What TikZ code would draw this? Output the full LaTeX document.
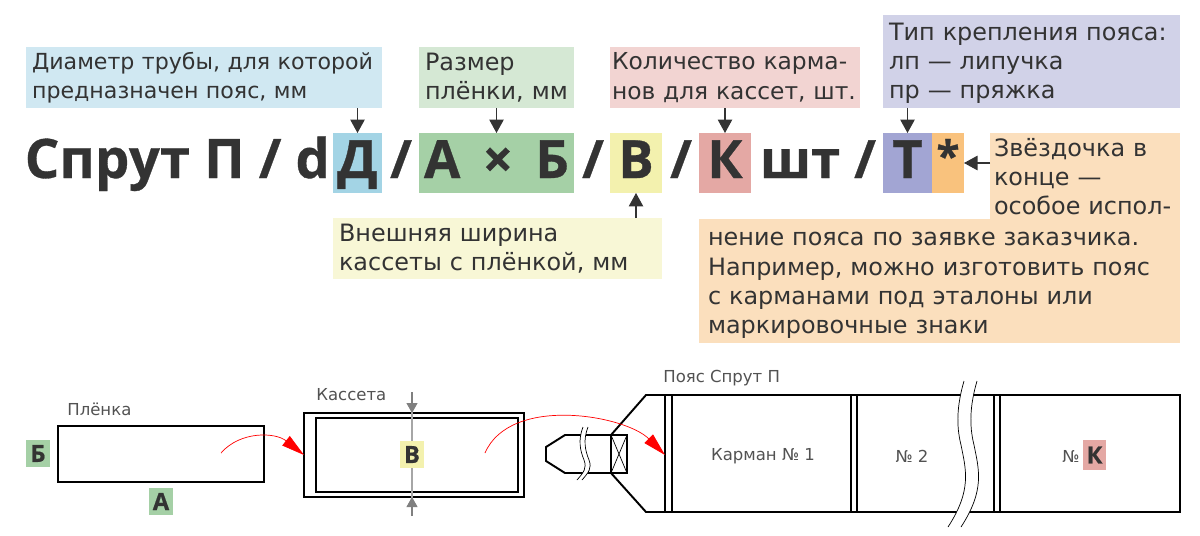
\documentclass[tikz,border=0pt]{standalone}
\usepackage{fontspec}
\setmainfont{DejaVu Sans}
\newfontfamily\codefont[BoldFeatures={FakeBold=0.6}]{Open Sans}
\usetikzlibrary{arrows.meta}
\definecolor{inkdark}{HTML}{333333}
\definecolor{notediam}{HTML}{D0E8F2}
\definecolor{markdiam}{HTML}{A3D4E5}
\definecolor{notefilm}{HTML}{D5E8D4}
\definecolor{markfilm}{HTML}{A5D0A6}
\definecolor{notecass}{HTML}{F8F7D6}
\definecolor{markcass}{HTML}{F3F1AE}
\definecolor{notepock}{HTML}{F2D4D2}
\definecolor{markpock}{HTML}{E4A8A4}
\definecolor{notefast}{HTML}{D1D2E8}
\definecolor{markfast}{HTML}{A2A5D3}
\definecolor{notestar}{HTML}{FBDFBD}
\definecolor{markstar}{HTML}{F9C27D}
\begin{document}
\begin{tikzpicture}[x=0.02cm, y=-0.02cm,
	note/.style={text width=#1-.24cm, inner xsep=.12cm, inner ysep=0, outer sep=0, align=left, text=inkdark, font=\fontsize{13.6}{16.7}\selectfont},
	title/.style={text=inkdark, inner sep=0, outer sep=0, text height=.9cm, text depth=.3cm, font=\fontsize{30}{30}\codefont\bfseries\selectfont},
	small/.style={text=inkdark!85, inner sep=0, font=\fontsize{9.4}{11}\selectfont},
	tag/.style={text=inkdark, inner sep=0, outer sep=0, minimum height=.54cm, minimum width=.48cm, font=\fontsize{13.5}{14}\codefont\bfseries\selectfont},
	part/.style={draw=black, line width=1.1pt, inner sep=0, outer sep=0},
	lead/.style={draw=inkdark, line width=.6pt, -{Triangle[length=.27cm,width=.29cm]}},
	flow/.style={draw=red, line width=.4pt, -{Triangle[length=.46cm,width=.24cm]}},
	gauge/.style={draw=gray, line width=.6pt, -{Triangle[length=.2cm,width=.22cm]}},
	wave/.style={draw=black, line width=.4pt}]
	\useasboundingbox (0,0) rectangle (1200,535);
	% notes above and below the code
	\node[note=7.12cm, fill=notediam, minimum height=1.22cm, font=\fontsize{12.6}{16.7}\selectfont] (Ndiam) at (204,77.5) {Диаметр трубы, для которой\\предназначен пояс, мм};
	\node[note=3.1cm, fill=notefilm, minimum height=1.22cm] (Nfilm) at (496.5,77.5) {Размер\\плёнки, мм};
	\node[note=5cm, fill=notepock, minimum height=1.22cm, inner xsep=.04cm, text width=4.92cm, font=\fontsize{13.3}{16.7}\selectfont] (Npock) at (735,77.5) {Количество карма-\\нов для кассет, шт.};
	\node[note=5.94cm, fill=notefast, minimum height=1.86cm] (Nfast) at (1031.5,61.5) {\rule{0pt}{12pt}Тип крепления пояса:\\лп — липучка\\пр — пряжка};
	\node[note=6.58cm, fill=notecass, minimum height=1.22cm] (Ncass) at (497.5,248.5) {Внешняя ширина\\кассеты с плёнкой, мм};
	\node[note=3.8cm, fill=notestar, minimum height=1.76cm, inner xsep=.08cm, text width=3.64cm] (Nstar) at (1085,176.5) {Звёздочка в\\конце —\\особое испол-};
	\node[note=9.5cm, fill=notestar, minimum height=2.5cm, inner xsep=.18cm] (Nmore) at (939.5,281) {\rule{0pt}{13pt}нение пояса по заявке заказчика.\\Например, можно изготовить пояс\\с карманами под эталоны или\\маркировочные знаки};
	% the code itself
	\node[title, anchor=east, font=\fontsize{31}{31}\codefont\bfseries\selectfont] (Tname) at (330,163) {Спрут П / d};
	\node[title, fill=markdiam, minimum width=.98cm] (Mdiam) at (357.5,163) {Д};
	\node[title] (S1) at (401,163) {/};
	\node[title, fill=markfilm, minimum width=3.1cm] (Mfilm) at (496.5,163) {А \,× \,Б};
	\node[title] (S2) at (593,163) {/};
	\node[title, fill=markcass, minimum width=1.04cm] (Mcass) at (636,163) {В};
	\node[title] (S3) at (681,163) {/};
	\node[title, fill=markpock, minimum width=1.04cm] (Mpock) at (725,163) {К};
	\node[title] (Tpcs) at (800,163) {шт};
	\node[title] (S4) at (865,163) {/};
	\node[title, fill=markfast, minimum width=.98cm] (Mfast) at (907.5,163) {Т};
	\node[title, fill=markstar, minimum width=.64cm, font=\fontsize{24}{24}\codefont\bfseries\selectfont] (Mstar) at (948,163) {\raisebox{4pt}{*}};
	\draw[lead] (Ndiam.south -| Mdiam) -- (Mdiam.north);
	\draw[lead] (Nfilm.south -| Mfilm) -- (Mfilm.north);
	\draw[lead] (Npock.south -| Mpock) -- (Mpock.north);
	\draw[lead] (Nfast.south -| Mfast) -- (Mfast.north);
	\draw[lead] (Ncass.north -| Mcass) -- (Mcass.south);
	\draw[lead] (Nstar.west |- Mstar) -- (Mstar.east);
	% film
	\node[part, draw, minimum width=4.12cm, minimum height=1.12cm] (film) at (161,454) {};
	\node[small, anchor=west] (Tfilm) at (67,409) {Плёнка};
	\node[tag, fill=markfilm] (Fb) at (38,453.5) {Б};
	\node[tag, fill=markfilm] (Fa) at (161,501.5) {А};
	% cassette
	\node[part, draw, minimum width=4.4cm, minimum height=1.68cm] (cass) at (414,455) {};
	\node[part, draw, minimum width=4.04cm, minimum height=1.48cm] (cassin) at (417,455) {};
	\node[small, anchor=west] (Tcass) at (316,395) {Кассета};
	\coordinate (Gtop) at (412,392);
	\coordinate (Gbot) at (412,516);
	\draw[draw=gray!70, line width=.8pt] (Gtop) -- (Gbot);
	\draw[gauge] (Gtop) -- (Gtop |- cass.north);
	\draw[gauge] (Gbot) -- (Gbot |- cass.south);
	\node[tag, fill=markcass] (Ca) at (412,454.5) {В};
	% belt
	\draw[part] (611,435) -- (646,395) -- (1180,395) -- (1180,512) -- (646,512) -- (611,473);
	\foreach \seam in {665,672,851,857,994,1000}
		\draw[part] (\seam,395) -- (\seam,512);
	\draw[part] (611,435) -- (565,435) -- (546,447) -- (546,461) -- (565,473) -- (611,473);
	\node[part, draw, minimum width=.32cm, minimum height=.76cm] (buckle) at (619,454) {};
	\draw[line width=.4pt] (buckle.north west) -- (buckle.south east);
	\draw[line width=.4pt] (buckle.north east) -- (buckle.south west);
	\draw[part] (611,435) -- (611,473);
	% breaks
	\fill[white] (583,427) .. controls (578,440) and (580,450) .. (584,460) .. controls (587,468) and (584,472) .. (577,480) -- (582,480) .. controls (589,472) and (592,468) .. (589,460) .. controls (585,450) and (583,440) .. (588,427) -- cycle;
	\draw[wave] (583,427) .. controls (578,440) and (580,450) .. (584,460) .. controls (587,468) and (584,472) .. (577,480);
	\draw[wave] (588,427) .. controls (583,440) and (585,450) .. (589,460) .. controls (592,468) and (589,472) .. (582,480);
	\fill[white] (964,381) .. controls (957,405) and (956,425) .. (961,445) .. controls (966,470) and (972,490) .. (948,527) -- (961,527) .. controls (985,490) and (979,470) .. (974,445) .. controls (969,425) and (970,405) .. (977,381) -- cycle;
	\draw[wave] (964,381) .. controls (957,405) and (956,425) .. (961,445) .. controls (966,470) and (972,490) .. (948,527);
	\draw[wave] (977,381) .. controls (970,405) and (969,425) .. (974,445) .. controls (979,470) and (985,490) .. (961,527);
	\node[small, anchor=west] (Tbelt) at (663,378) {Пояс Спрут П};
	\node[small] (Pone) at (763,456) {Карман № 1};
	\node[small] (Ptwo) at (912,456) {№ 2};
	\node[small] (Pnum) at (1071,456) {№};
	\node[tag, fill=markpock, minimum width=.46cm, minimum height=.6cm] (Pk) at (1094.5,455) {К};
	% red arrows
	\coordinate (Rfilm) at (221,453);
	\coordinate (Rcass) at (485,453);
	\coordinate (Rbelt) at (665,455);
	\draw[flow] (Rfilm) .. controls (240,431) and (275,432) .. (cass.west);
	\draw[flow] (Rcass) .. controls (510,395) and (625,415) .. (Rbelt);
\end{tikzpicture}
\end{document}
